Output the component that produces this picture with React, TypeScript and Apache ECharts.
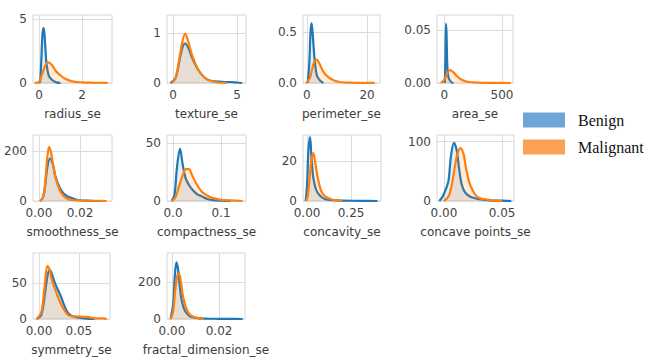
import React, { useEffect, useRef } from "react";
import * as echarts from "echarts";

// ---- KDE curves (x, density) ----
const radiusBenign = [[0.0,0],[0.05,0.1],[0.1,1.5],[0.15,3.5],[0.2,4.3],[0.25,3.9],[0.3,2.6],[0.35,1.5],[0.45,0.6],[0.6,0.25],[0.8,0.05],[1.0,0]];
const radiusMalignant = [[-0.2,0],[0.0,0.1],[0.15,0.7],[0.3,1.4],[0.43,1.6],[0.6,1.4],[0.8,0.9],[1.0,0.6],[1.2,0.35],[1.5,0.15],[2.0,0.05],[2.5,0.02],[3.2,0.01]];

const textureBenign = [[-0.2,0],[0.2,0.1],[0.5,0.45],[0.75,0.72],[0.95,0.79],[1.2,0.7],[1.5,0.5],[2.0,0.25],[2.5,0.1],[3.0,0.04],[3.5,0.03],[4.0,0.02],[4.5,0.02],[5.0,0.01],[5.4,0]];
const textureMalignant = [[-0.1,0],[0.2,0.1],[0.5,0.5],[0.75,0.85],[0.95,0.99],[1.2,0.82],[1.5,0.55],[2.0,0.25],[2.5,0.1],[3.0,0.04],[3.5,0.01],[4.2,0]];

const perimeterBenign = [[0.3,0],[0.8,0.2],[1.2,0.5],[1.55,0.59],[2.0,0.45],[2.5,0.25],[3.0,0.12],[3.5,0.06],[4.5,0.02],[5.5,0]];
const perimeterMalignant = [[-0.3,0],[1,0.05],[2,0.17],[3,0.23],[3.5,0.225],[4.5,0.17],[5.5,0.11],[7,0.06],[9,0.025],[11,0.01],[14,0.003],[18,0.002],[22.5,0.001]];

const areaBenign = [[5,0],[10,0.025],[15,0.0558],[20,0.045],[25,0.02],[30,0.01],[40,0.004],[60,0.001],[80,0]];
const areaMalignant = [[-30,0],[0,0.003],[25,0.009],[52,0.0122],[80,0.01],[110,0.0065],[150,0.003],[200,0.0012],[300,0.0003],[400,0.0001],[575,0]];

const smoothnessBenign = [[0.0005,0],[0.002,15],[0.003,60],[0.004,130],[0.0054,171],[0.007,140],[0.008,100],[0.010,55],[0.012,30],[0.014,18],[0.016,12],[0.018,6],[0.020,3],[0.025,1],[0.03,0]];
const smoothnessMalignant = [[0.0005,0],[0.002,15],[0.003,70],[0.004,170],[0.005,217],[0.006,190],[0.007,140],[0.008,95],[0.010,45],[0.012,20],[0.014,8],[0.016,4],[0.020,2],[0.025,1],[0.03,1],[0.033,0]];

const compactnessBenign = [[-0.003,0],[0.003,5],[0.008,28],[0.0146,45],[0.02,32],[0.026,20],[0.033,14],[0.04,10],[0.05,6],[0.06,4],[0.07,2],[0.08,1],[0.1,0.3],[0.12,0]];
const compactnessMalignant = [[-0.003,0],[0.005,3],[0.012,12],[0.02,22],[0.027,27.5],[0.033,27.5],[0.04,22],[0.05,14],[0.06,8],[0.07,5],[0.08,3],[0.1,1],[0.12,0.5],[0.145,0]];

const concavityBenign = [[-0.008,0],[0,8],[0.008,26],[0.017,32],[0.025,22],[0.035,12],[0.05,6],[0.07,3],[0.1,1],[0.15,0.4],[0.2,0.2],[0.3,0.1],[0.4,0]];
const concavityMalignant = [[-0.005,0],[0.005,3],[0.015,12],[0.025,21],[0.036,24],[0.045,20],[0.06,12],[0.08,5],[0.1,2.5],[0.12,1.5],[0.15,0.5],[0.2,0]];

const concavePointsBenign = [[-0.004,0],[-0.001,8],[0.002,22],[0.004,35],[0.006,75],[0.0086,98],[0.011,85],[0.013,55],[0.015,30],[0.018,15],[0.022,8],[0.026,5],[0.03,3],[0.04,1],[0.05,0.5],[0.058,0]];
const concavePointsMalignant = [[0.0,0],[0.004,8],[0.007,30],[0.010,65],[0.012,82],[0.0144,89],[0.017,78],[0.019,55],[0.022,30],[0.025,17],[0.028,8],[0.032,4],[0.036,3],[0.040,1.5],[0.045,0.5],[0.05,0]];

const symmetryBenign = [[-0.003,0],[0.003,6],[0.008,40],[0.011,62],[0.0137,68],[0.017,60],[0.02,50],[0.024,40],[0.028,30],[0.032,18],[0.036,9],[0.04,5],[0.045,3],[0.05,2],[0.06,0.5],[0.07,0]];
const symmetryMalignant = [[-0.003,0],[0.003,10],[0.007,45],[0.0105,74],[0.013,70],[0.016,55],[0.02,42],[0.024,30],[0.028,20],[0.032,12],[0.036,6],[0.04,4],[0.045,3.5],[0.05,3.5],[0.055,3],[0.06,3],[0.065,2],[0.07,1],[0.08,1],[0.085,0]];

const fractalBenign = [[-0.0006,0],[0.0005,80],[0.0012,230],[0.0019,306],[0.0026,270],[0.0033,180],[0.004,110],[0.005,60],[0.006,35],[0.007,20],[0.008,12],[0.01,6],[0.012,3],[0.015,2],[0.02,1],[0.025,0.5],[0.03,0]];
const fractalMalignant = [[-0.0006,0],[0.0005,40],[0.0015,170],[0.0023,235],[0.003,245],[0.0038,200],[0.0046,130],[0.0055,80],[0.0065,45],[0.0075,25],[0.009,12],[0.011,5],[0.0135,0]];

// ---- panel names, axis ranges and tick labels ----
const featureNames = ["radius_se","texture_se","perimeter_se","area_se","smoothness_se","compactness_se","concavity_se","concave points_se","symmetry_se","fractal_dimension_se"];
const benignCurves = [radiusBenign,textureBenign,perimeterBenign,areaBenign,smoothnessBenign,compactnessBenign,concavityBenign,concavePointsBenign,symmetryBenign,fractalBenign];
const malignantCurves = [radiusMalignant,textureMalignant,perimeterMalignant,areaMalignant,smoothnessMalignant,compactnessMalignant,concavityMalignant,concavePointsMalignant,symmetryMalignant,fractalMalignant];
const xRanges = [[-0.28,3.4],[-0.47,5.7],[-1.3,24.3],[-63,595],[-0.0029,0.0356],[-0.0125,0.152],[-0.023,0.42],[-0.006,0.0603],[-0.0075,0.089],[-0.0021,0.031]];
const yMaxima = [5.3,1.36,0.67,0.064,264,57,33,111,92,357];
const xTickValues = [[0,2],[0,5],[0,20],[0,500],[0,0.02],[0,0.1],[0,0.25],[0,0.05],[0,0.05],[0,0.02]];
const xTickLabels = [["0","2"],["0","5"],["0","20"],["0","500"],["0.00","0.02"],["0.0","0.1"],["0.00","0.25"],["0.00","0.05"],["0.00","0.05"],["0.00","0.02"]];
const yTickValues = [[0,5],[0,1],[0,0.5],[0,0.05],[0,200],[0,50],[0,20],[0,100],[0,50],[0,200]];
const yTickLabels = [["0","5"],["0","1"],["0.0","0.5"],["0.00","0.05"],["0","200"],["0","50"],["0","20"],["0","100"],["0","50"],["0","200"]];
const seriesNames = ["Benign","Malignant"];

// ---- layout (pixels): left, top, width, height ----
const gridRects = [
  [33,15,79,68],[167,15,79,68],[303,15,77,68],[437,15,76,68],
  [33,135,79,66],[167,135,79,66],[303,135,78,66],[437,135,77,66],
  [33,253,77,66],[167,253,78,66],
];

const LINE_COLORS = ["#1f77b4","#ff7f0e"];
const LEGEND_COLORS = ["#6ea7d6","#fca254"];
const TICK_FONT = "DejaVu Sans";

export default function App() {
  const ref = useRef<HTMLDivElement>(null);
  useEffect(() => {
    if (!ref.current) return;
    document.body.style.margin = "0";
    const chart = echarts.init(ref.current, null, { renderer: "svg" });

    const grids = gridRects.map(([l, t, w, h]) => ({
      left: l, top: t, width: w, height: h,
      show: true, borderColor: "#d6d6d6", borderWidth: 1, backgroundColor: "transparent",
    }));

    const labelFmt = (vals: number[], labels: string[]) => (v: number) => {
      const idx = vals.findIndex((x) => Math.abs(x - v) < 1e-9);
      return idx >= 0 ? labels[idx] : "";
    };

    const xAxes = featureNames.map((name, i) => ({
      type: "value", gridIndex: i,
      min: xRanges[i][0], max: xRanges[i][1],
      name, nameLocation: "middle", nameGap: 25,
      nameTextStyle: { fontFamily: TICK_FONT, fontSize: 12, color: "#3c3c3c" },
      axisLine: { show: false },
      axisTick: { show: false, customValues: xTickValues[i] },
      axisLabel: {
        customValues: xTickValues[i], margin: 6,
        fontFamily: TICK_FONT, fontSize: 12, color: "#444",
        formatter: labelFmt(xTickValues[i], xTickLabels[i]),
        showMinLabel: true, showMaxLabel: true,
      },
      splitLine: { show: true, lineStyle: { color: "#dcdcdc", width: 1 } },
    }));

    const yAxes = featureNames.map((_, i) => ({
      type: "value", gridIndex: i,
      min: 0, max: yMaxima[i],
      axisLine: { show: false },
      axisTick: { show: false, customValues: yTickValues[i] },
      axisLabel: {
        customValues: yTickValues[i], margin: 6,
        fontFamily: TICK_FONT, fontSize: 12, color: "#444",
        formatter: labelFmt(yTickValues[i], yTickLabels[i]),
      },
      splitLine: { show: true, lineStyle: { color: "#dcdcdc", width: 1 } },
    }));

    const series: any[] = [];
    featureNames.forEach((_, i) => {
      [benignCurves[i], malignantCurves[i]].forEach((curve, k) => {
        series.push({
          type: "line", name: seriesNames[k],
          xAxisIndex: i, yAxisIndex: i,
          data: curve, showSymbol: false, smooth: 0.35, clip: false,
          lineStyle: { color: LINE_COLORS[k], width: 2.2 },
          itemStyle: { color: LINE_COLORS[k] },
          areaStyle: { color: LINE_COLORS[k], opacity: k === 0 ? 0.12 : 0.15 },
          z: 2 + k,
        });
      });
    });

    chart.setOption({
      animation: false,
      grid: grids,
      xAxis: xAxes,
      yAxis: yAxes,
      series,
      legend: {
        orient: "vertical", left: 523, top: 112, padding: 0,
        itemWidth: 42, itemHeight: 15, itemGap: 11, icon: "rect",
        selectedMode: false,
        data: seriesNames.map((n, k) => ({ name: n, itemStyle: { color: LEGEND_COLORS[k], borderWidth: 0 } })),
        itemStyle: { borderWidth: 0 },
        lineStyle: { width: 0 },
        textStyle: { fontFamily: "Liberation Serif", fontSize: 16, color: "#111", padding: [0, 0, 0, 8] },
      },
    });
    return () => chart.dispose();
  }, []);
  return <div ref={ref} style={{ position: "absolute", left: 0, top: 0, width: 646, height: 358 }} />;
}
